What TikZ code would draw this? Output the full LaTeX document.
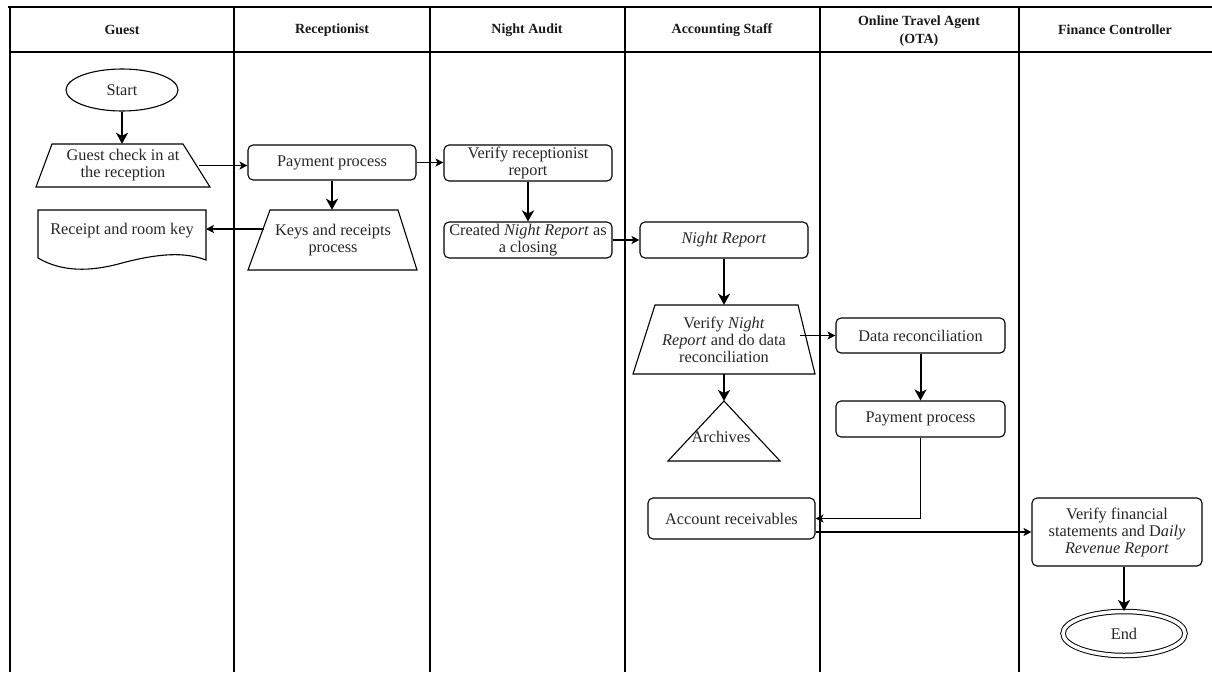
\documentclass[tikz,border=0pt]{standalone}
\usepackage{fontspec}
\setmainfont{Liberation Serif}
\usetikzlibrary{shapes.geometric,arrows.meta,calc}
\begin{document}
\begin{tikzpicture}[x=1pt,y=-1pt,
  every node/.style={font=\fontsize{16.3}{17}\selectfont, text=black!85, inner sep=0pt, align=center},
  hdr/.style={font=\fontsize{14}{18}\selectfont\bfseries, text=black!90},
  proc/.style={draw, rounded corners=5pt, line width=1.1pt, minimum width=168pt, minimum height=36pt},
  shapeline/.style={line width=1.1pt, line join=miter},
  bigarrow/.style={-{Stealth[length=11pt,width=12pt,inset=3pt]}, line width=2pt},
  smallarrow/.style={-{Stealth[length=8pt,width=8pt,inset=2pt]}, line width=1.3pt},
  lane/.style={line width=1.1pt}
]
\useasboundingbox (0,0) rectangle (1212,672);

% swimlane table
\draw[line width=2.5pt] (8,7) -- (1212,7);
\draw[lane] (10,52) -- (1212,52);
\foreach \x in {10,234,430,625,820,1019} \draw[lane] (\x,7) -- (\x,672);

% headers
\node[hdr] (h1) at (122,30) {Guest};
\node[hdr] (h2) at (332,30) {Receptionist};
\node[hdr] (h3) at (527,30) {Night Audit};
\node[hdr] (h4) at (722,30) {Accounting Staff};
\node[hdr] (h5) at (919,31) {Online Travel Agent\\(OTA)};
\node[hdr] (h6) at (1115,30) {Finance Controller};

% Guest lane
\node[draw, ellipse, line width=1.1pt, minimum width=112pt, minimum height=42pt] (st) at (122,90) {Start};
\node[minimum width=152pt, minimum height=43pt] (gci) at (123,165.5) {Guest check in at\\the reception};
\draw[shapeline] (52,144) -- (183,144) -- (210,187) -- (36,187) -- cycle;
\node (rk) at (122,231) {Receipt and room key};
\coordinate (rkR) at (206,229);
\draw[shapeline] (38,258) -- (38,210) -- (206,210) -- (206,260)
  .. controls (185,252) and (160,253) .. (122,263)
  .. controls (90,272) and (62,272) .. (38,258);

% Receptionist lane
\node[proc, minimum height=35pt] (pp) at (332,162.5) {Payment process};
\node[minimum width=148pt, minimum height=60pt] (krp) at (333,240) {Keys and receipts\\process};
\draw[shapeline] (270,210) -- (398,210) -- (417,270) -- (248,270) -- cycle;
\coordinate (krpL) at (264,229);

% Night audit lane
\node[proc] (vrr) at (528,163) {Verify receptionist\\report};
\node[proc] (cnr) at (528,240) {Created \textit{Night Report} as\\a closing};

% Accounting staff lane
\node[proc] (nr) at (724,240) {\textit{Night Report}};
\node[minimum width=162pt, minimum height=69pt] (vnr) at (724,339.5) {Verify \textit{Night}\\\textit{Report} and do data\\reconciliation};
\draw[shapeline] (655,305) -- (798,305) -- (815,374) -- (633,374) -- cycle;
\coordinate (vnrR) at (800,335.5);
\coordinate (arTop) at (724,401);
\draw[shapeline] (arTop) -- (780,461) -- (668,461) -- cycle;
\node (arc) at (721,437) {Archives};
\node[proc, minimum width=167pt, minimum height=41pt] (ar) at (731.5,518.5) {Account receivables};

% OTA lane
\node[proc, minimum width=169pt, minimum height=35pt] (dr) at (920.5,335.5) {Data reconciliation};
\node[proc, minimum width=169pt] (pp2) at (920.5,419) {Payment process};

% Finance controller lane
\node[proc, minimum width=170pt, minimum height=68pt] (vf) at (1117,532) {Verify financial\\statements and D\textit{aily}\\\textit{Revenue Report}};
\node[draw, ellipse, double, double distance=3.5pt, line width=1pt, minimum width=122pt, minimum height=44pt] (en) at (1124,633.5) {End};

% connectors
\draw[bigarrow] (st.south) -- (st.south |- gci.north);
\draw[smallarrow] (gci.east) -- (gci.east -| pp.west);
\draw[smallarrow] (pp.east) -- (pp.east -| vrr.west);
\draw[bigarrow] (pp.south) -- (pp.south |- krp.north);
\draw[smallarrow] (krpL) -- (rkR);
\draw[bigarrow] (vrr.south) -- (cnr.north);
\draw[smallarrow] (cnr.east) -- (nr.west);
\draw[bigarrow] (nr.south) -- (vnr.north);
\draw[smallarrow] (vnrR) -- (dr.west);
\draw[bigarrow] (vnr.south) -- (arTop);
\draw[bigarrow] (dr.south) -- (pp2.north);
\draw[smallarrow] (pp2.south) |- (ar.east);
\draw[smallarrow] (ar.east |- vf.west) -- (vf.west);
\draw[bigarrow] (vf.south -| en.north) -- (en.north);
\end{tikzpicture}
\end{document}
